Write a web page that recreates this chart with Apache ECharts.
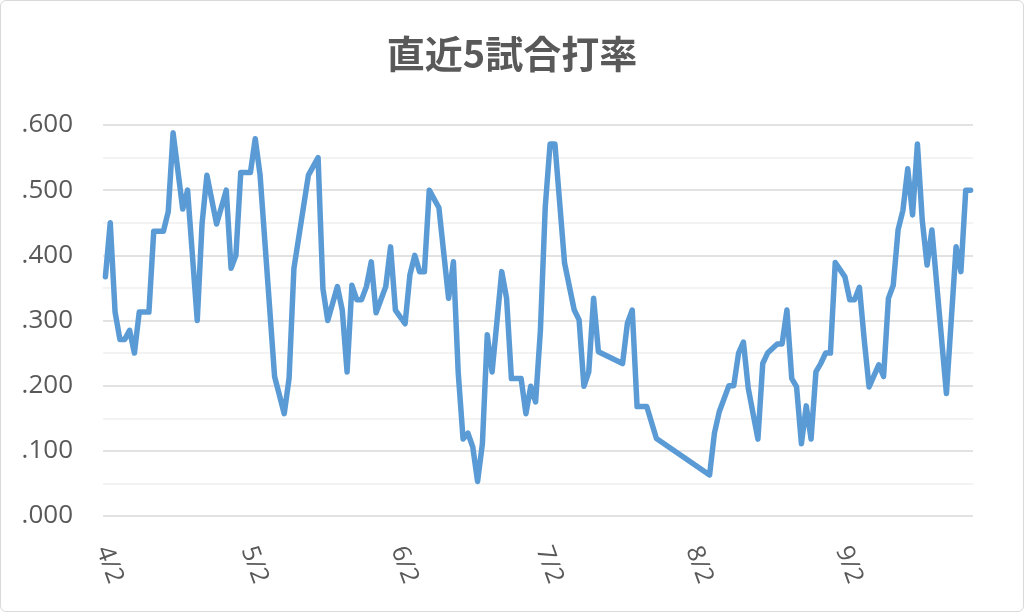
<!DOCTYPE html>
<html>

<head>
    <meta charset="utf-8">
    <style>
        html, body { margin: 0; height: 100%; background: #fff; }
        #frame {
            position: absolute; left: 0; top: 0;
            width: 1024px; height: 612px;
            box-sizing: border-box;
            border: 1px solid #d9d9d9;
            border-radius: 6px;
        }
        #container { position: absolute; left: 0; top: 0; width: 1024px; height: 612px; }
    </style>
</head>

<body>
    <div id="frame"></div>
    <div id="container"></div>
    <script type="text/javascript" src="https://cdn.jsdelivr.net/npm/echarts@6/dist/echarts.min.js"></script>
    <script type="text/javascript">
        var year = 2019;

        // game dates (M/D) and 5-game batting average
        var dates = [
            '4/2', '4/3', '4/4', '4/5', '4/6', '4/7', '4/8', '4/9', '4/11', '4/12',
            '4/14', '4/15', '4/16', '4/18', '4/19', '4/21', '4/22', '4/23', '4/25', '4/27',
            '4/28', '4/29', '4/30', '5/2', '5/3', '5/4', '5/7', '5/9', '5/10', '5/11',
            '5/14', '5/16', '5/17', '5/18', '5/20', '5/21', '5/22', '5/23', '5/24', '5/25',
            '5/26', '5/27', '5/28', '5/30', '5/31', '6/1', '6/3', '6/4', '6/5', '6/6',
            '6/7', '6/8', '6/10', '6/12', '6/13', '6/14', '6/15', '6/16', '6/17', '6/18',
            '6/19', '6/20', '6/21', '6/23', '6/24', '6/25', '6/27', '6/28', '6/29', '6/30',
            '7/1', '7/2', '7/3', '7/4', '7/6', '7/8', '7/9', '7/10', '7/11', '7/12',
            '7/13', '7/18', '7/19', '7/20', '7/21', '7/23', '7/25', '8/5', '8/6', '8/7',
            '8/9', '8/10', '8/11', '8/12', '8/13', '8/15', '8/16', '8/17', '8/19', '8/20',
            '8/21', '8/22', '8/23', '8/24', '8/25', '8/26', '8/27', '8/28', '8/29', '8/30',
            '8/31', '9/2', '9/3', '9/4', '9/5', '9/6', '9/7', '9/9', '9/10', '9/11',
            '9/12', '9/13', '9/14', '9/15', '9/16', '9/17', '9/18', '9/19', '9/20', '9/23',
            '9/25', '9/26', '9/27', '9/28'
        ];
        var avg = [
            .367, .450, .313, .271, .271, .285, .250, .313, .313, .437,
            .437, .467, .588, .471, .500, .300, .449, .523, .448, .500,
            .380, .400, .527, .527, .579, .523, .214, .157, .211, .380,
            .523, .550, .349, .300, .352, .316, .221, .354, .332, .332,
            .352, .390, .312, .352, .413, .316, .295, .370, .400, .375,
            .375, .500, .473, .334, .390, .219, .118, .127, .106, .053,
            .111, .278, .221, .375, .334, .211, .211, .157, .199, .175,
            .285, .474, .571, .571, .388, .316, .301, .199, .221, .334,
            .252, .234, .296, .316, .168, .168, .119, .063, .127, .160,
            .200, .200, .250, .267, .196, .118, .234, .250, .264, .264,
            .316, .211, .198, .111, .169, .118, .221, .234, .250, .250,
            .389, .367, .332, .332, .351, .270, .198, .232, .214, .334,
            .354, .439, .469, .533, .462, .571, .454, .385, .439, .188,
            .413, .375, .500, .500
        ];
        var tickDates = ['4/2', '5/2', '6/2', '7/2', '8/2', '9/2'];
        var axisStart = '4/2';
        var axisEnd = '9/29';

        function toTime(md, hour) {
            var p = md.split('/');
            return new Date(year, +p[0] - 1, +p[1], hour || 0).getTime();
        }

        var seriesData = dates.map(function (d, i) {
            return [toTime(d, 12), avg[i]];
        });

        var dom = document.getElementById('container');
        var myChart = echarts.init(dom);
        var option = {
            animation: false,
            title: {
                text: '直近5試合打率',
                left: 'center',
                top: 30,
                textStyle: {
                    fontFamily: 'Noto Sans CJK JP',
                    fontSize: 38,
                    fontWeight: 'bold',
                    color: '#595959'
                }
            },
            grid: {
                left: 103,
                right: 51,
                top: 125,
                bottom: 96
            },
            xAxis: {
                // timestamps on a plain value axis so the month labels can sit on the 2nd
                type: 'value',
                min: toTime(axisStart),
                max: toTime(axisEnd),
                axisLine: { show: false },
                axisTick: { show: false },
                splitLine: { show: false },
                axisLabel: {
                    customValues: tickDates.map(function (d) { return toTime(d); }),
                    formatter: function (v) {
                        var dt = new Date(v);
                        return (dt.getMonth() + 1) + '/' + dt.getDate();
                    },
                    rotate: -70,
                    margin: 31,
                    fontFamily: 'Open Sans',
                    fontSize: 25,
                    color: '#595959'
                }
            },
            yAxis: {
                type: 'value',
                min: 0,
                max: 0.6,
                interval: 0.1,
                axisLine: { show: false },
                axisTick: { show: false },
                axisLabel: {
                    formatter: function (v) { return v.toFixed(3).replace(/^0/, ''); },
                    margin: 30,
                    fontFamily: 'Open Sans',
                    fontSize: 26,
                    color: '#595959'
                },
                splitLine: { lineStyle: { color: '#d9d9d9', width: 1.5 } },
                minorTick: { show: false, splitNumber: 2 },
                minorSplitLine: { show: true, lineStyle: { color: '#f0f0f0', width: 1.5 } }
            },
            series: [{
                type: 'line',
                data: seriesData,
                showSymbol: false,
                symbol: 'none',
                lineStyle: {
                    color: '#5b9bd5',
                    width: 5.5,
                    cap: 'round',
                    join: 'round'
                }
            }]
        };
        myChart.setOption(option);
    </script>
</body>

</html>
